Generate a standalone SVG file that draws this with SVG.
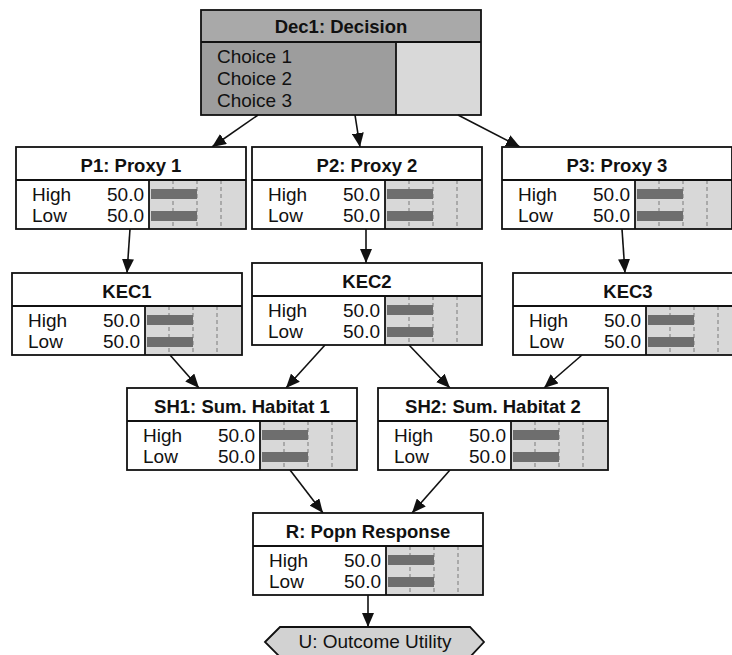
<svg xmlns="http://www.w3.org/2000/svg" width="732" height="655" viewBox="0 0 732 655">
<style>
text{font-family:"Liberation Sans",Arial,sans-serif;fill:#111}
.t{font-size:18.5px;font-weight:bold;text-anchor:middle}
.s{font-size:19px}
.v{font-size:19px;text-anchor:end}
.bg{fill:#fff;stroke:none}
.ba{fill:#d8d8d8}
.grid{stroke:#7a7a7a;stroke-width:1;stroke-dasharray:4 3}
.bar{fill:#6e6e6e}
.edge{stroke:#111;stroke-width:1.8;fill:none}
.conn line{stroke:#111;stroke-width:1.6;marker-end:url(#ah)}
</style>
<defs>
<marker id="ah" viewBox="0 0 14 12" refX="14" refY="6" markerWidth="14" markerHeight="12" markerUnits="userSpaceOnUse" orient="auto">
<path d="M0,0 L14,6 L0,12 z" fill="#111"/>
</marker>
<g id="body">
<rect class="bg" x="0" y="0" width="230" height="82"/>
<rect class="ba" x="133" y="33" width="97" height="49"/>
<line class="grid" x1="157" y1="33" x2="157" y2="82"/>
<line class="grid" x1="181" y1="33" x2="181" y2="82"/>
<line class="grid" x1="205" y1="33" x2="205" y2="82"/>
<rect class="bar" x="135" y="42" width="46" height="10"/>
<rect class="bar" x="135" y="64" width="46" height="10"/>
<line class="edge" x1="0" y1="33" x2="230" y2="33"/>
<line class="edge" x1="133" y1="33" x2="133" y2="82"/>
<rect class="edge" x="0" y="0" width="230" height="82"/>
<text class="s" x="16" y="54">High</text>
<text class="s" x="16" y="75">Low</text>
<text class="v" x="128" y="54">50.0</text>
<text class="v" x="128" y="75">50.0</text>
</g>
</defs>
<rect width="732" height="655" fill="#fff"/>

<g id="Dec1" transform="translate(201,10)">
<rect x="0" y="0" width="280" height="32" fill="#a9a9a9"/>
<rect x="0" y="32" width="195" height="73" fill="#9d9d9d"/>
<rect x="195" y="32" width="85" height="73" fill="#d9d9d9"/>
<line class="edge" x1="0" y1="32" x2="280" y2="32"/>
<line class="edge" x1="195" y1="32" x2="195" y2="105"/>
<rect class="edge" x="0" y="0" width="280" height="105"/>
<text class="t" x="140" y="23">Dec1: Decision</text>
<text class="s" x="16" y="53">Choice 1</text>
<text class="s" x="16" y="75">Choice 2</text>
<text class="s" x="16" y="97">Choice 3</text>
</g>

<g class="conn" id="connectors">
<line x1="258" y1="115" x2="212" y2="147"/>
<line x1="355" y1="115" x2="360" y2="147"/>
<line x1="458" y1="115" x2="520" y2="147"/>
<line x1="130" y1="229" x2="127" y2="273"/>
<line x1="366" y1="229" x2="366" y2="263"/>
<line x1="622" y1="229" x2="625" y2="273"/>
<line x1="170" y1="355" x2="199" y2="388"/>
<line x1="325" y1="345" x2="286" y2="388"/>
<line x1="409" y1="345" x2="450" y2="388"/>
<line x1="582" y1="355" x2="544" y2="388"/>
<line x1="290" y1="470" x2="323" y2="513"/>
<line x1="450" y1="470" x2="412" y2="513"/>
<line x1="368" y1="595" x2="368" y2="627"/>
</g>

<g id="P1" transform="translate(16,147)"><use href="#body"/><text class="t" x="115" y="25">P1: Proxy 1</text></g>
<g id="P2" transform="translate(252,147)"><use href="#body"/><text class="t" x="115" y="25">P2: Proxy 2</text></g>
<g id="P3" transform="translate(502,147)"><use href="#body"/><text class="t" x="115" y="25">P3: Proxy 3</text></g>
<g id="KEC1" transform="translate(12,273)"><use href="#body"/><text class="t" x="115" y="25">KEC1</text></g>
<g id="KEC2" transform="translate(252,263)"><use href="#body"/><text class="t" x="115" y="25">KEC2</text></g>
<g id="KEC3" transform="translate(513,273)"><use href="#body"/><text class="t" x="115" y="25">KEC3</text></g>
<g id="SH1" transform="translate(127,388)"><use href="#body"/><text class="t" x="115" y="25">SH1: Sum. Habitat 1</text></g>
<g id="SH2" transform="translate(378,388)"><use href="#body"/><text class="t" x="115" y="25">SH2: Sum. Habitat 2</text></g>
<g id="R" transform="translate(253,513)"><use href="#body"/><text class="t" x="115" y="25">R: Popn Response</text></g>

<g id="U">
<polygon points="265,642 280,627 470,627 484,642 470,657 280,657" fill="#d2d2d2" stroke="#111" stroke-width="1.8"/>
<text class="s" x="375" y="648" text-anchor="middle">U: Outcome Utility</text>
</g>
</svg>
